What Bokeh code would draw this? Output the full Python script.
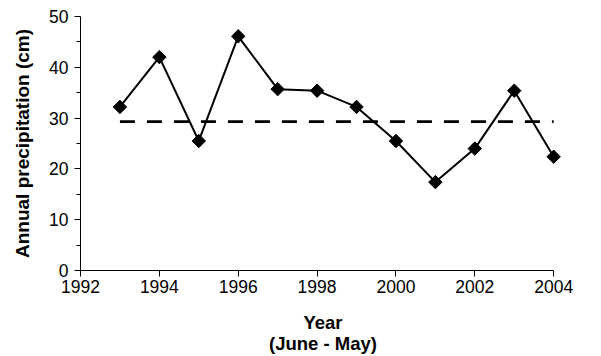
import numpy as np
from bokeh.plotting import figure
from bokeh.models import FixedTicker, Range1d
from bokeh.embed import file_html
from bokeh.resources import INLINE

years = [1993, 1994, 1995, 1996, 1997, 1998, 1999, 2000, 2001, 2002, 2003, 2004]
precip = [32.2, 42.0, 25.5, 46.1, 35.7, 35.4, 32.2, 25.5, 17.4, 24.0, 35.4, 22.4]
mean_precip = 29.3
x_ticks = [1992, 1994, 1996, 1998, 2000, 2002, 2004]
y_ticks = [0, 10, 20, 30, 40, 50]
y_minor = [5, 15, 25, 35, 45]

FONT = "Liberation Sans"

p = figure(width=601, height=356, output_backend="svg", toolbar_location=None,
           x_range=Range1d(1992, 2004.3), y_range=Range1d(0, 50),
           min_border_left=80, min_border_right=36, min_border_top=16, min_border_bottom=85)
p.outline_line_color = None
p.xgrid.visible = False
p.ygrid.visible = False
p.background_fill_color = "white"

# mean line
p.line([years[0], years[-1]], [mean_precip, mean_precip], line_color="black",
       line_width=2.6, line_dash="15 12")
# data
p.line(years, precip, line_color="black", line_width=2)
p.scatter(years, precip, marker="square", size=9.5, angle=np.pi / 4,
          fill_color="black", line_color="black")

xa = p.xaxis[0]
xa.ticker = FixedTicker(ticks=x_ticks)
xa.bounds = (x_ticks[0], x_ticks[-1])
xa.axis_label = "Year\n(June - May)"
ya = p.yaxis[0]
ya.ticker = FixedTicker(ticks=y_ticks, minor_ticks=y_minor)
ya.axis_label = "Annual precipitation (cm)"

for ax in (xa, ya):
    ax.axis_line_color = "black"
    ax.axis_line_width = 1
    ax.major_tick_line_color = "black"
    ax.minor_tick_line_color = "black"
    ax.major_tick_in = 0
    ax.major_tick_out = 6
    ax.minor_tick_in = 0
    ax.minor_tick_out = 4
    ax.major_label_text_font = FONT
    ax.major_label_text_font_size = "17.5px"
    ax.major_label_text_color = "black"
    ax.axis_label_text_font = FONT
    ax.axis_label_text_font_style = "bold"
    ax.axis_label_text_color = "black"

xa.axis_label_text_font_size = "18.5px"
ya.axis_label_text_font_size = "19px"
xa.axis_label_text_line_height = 1.0
xa.major_label_text_line_height = 1.0
xa.minor_tick_out = 0
xa.major_label_standoff = 3
xa.axis_label_standoff = 16
ya.major_label_standoff = 6
ya.axis_label_standoff = 13

open("out.html", "w").write(file_html(p, INLINE))
